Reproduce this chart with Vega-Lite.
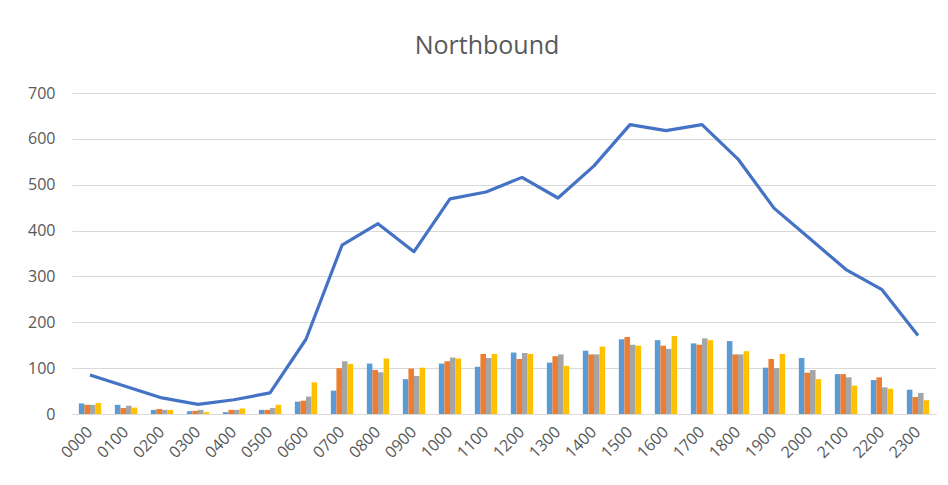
{
  "$schema": "https://vega.github.io/schema/vega-lite/v6.json",
  "width": 864,
  "height": 321,
  "autosize": {"type": "none"},
  "padding": {"left": 72, "top": 93, "right": 12, "bottom": 71},
  "background": "white",
  "title": {
    "text": "Northbound",
    "fontSize": 25,
    "font": "Open Sans",
    "fontWeight": "normal",
    "color": "#595959",
    "anchor": "middle",
    "dx": -17,
    "offset": 26
  },
  "datasets": {
    "counts": [
      {"hour": "0000", "s1": 23, "s2": 20, "s3": 20, "s4": 24, "total": 85},
      {"hour": "0100", "s1": 20, "s2": 13, "s3": 18, "s4": 14, "total": 60},
      {"hour": "0200", "s1": 9, "s2": 11, "s3": 9, "s4": 9, "total": 35},
      {"hour": "0300", "s1": 6, "s2": 7, "s3": 9, "s4": 4, "total": 21},
      {"hour": "0400", "s1": 4, "s2": 9, "s3": 9, "s4": 12, "total": 31},
      {"hour": "0500", "s1": 9, "s2": 9, "s3": 13, "s4": 20, "total": 46},
      {"hour": "0600", "s1": 27, "s2": 29, "s3": 38, "s4": 69, "total": 163},
      {"hour": "0700", "s1": 51, "s2": 100, "s3": 115, "s4": 109, "total": 368},
      {"hour": "0800", "s1": 110, "s2": 96, "s3": 91, "s4": 121, "total": 415},
      {"hour": "0900", "s1": 76, "s2": 99, "s3": 83, "s4": 101, "total": 354},
      {"hour": "1000", "s1": 110, "s2": 115, "s3": 123, "s4": 121, "total": 469},
      {"hour": "1100", "s1": 103, "s2": 131, "s3": 122, "s4": 131, "total": 484},
      {"hour": "1200", "s1": 134, "s2": 120, "s3": 133, "s4": 131, "total": 516},
      {"hour": "1300", "s1": 112, "s2": 126, "s3": 130, "s4": 105, "total": 471},
      {"hour": "1400", "s1": 138, "s2": 130, "s3": 130, "s4": 147, "total": 541},
      {"hour": "1500", "s1": 163, "s2": 168, "s3": 151, "s4": 149, "total": 631},
      {"hour": "1600", "s1": 161, "s2": 149, "s3": 142, "s4": 170, "total": 618},
      {"hour": "1700", "s1": 154, "s2": 151, "s3": 165, "s4": 161, "total": 631},
      {"hour": "1800", "s1": 159, "s2": 130, "s3": 130, "s4": 137, "total": 556},
      {"hour": "1900", "s1": 101, "s2": 120, "s3": 100, "s4": 131, "total": 449},
      {"hour": "2000", "s1": 122, "s2": 90, "s3": 96, "s4": 76, "total": 382},
      {"hour": "2100", "s1": 87, "s2": 87, "s3": 80, "s4": 62, "total": 315},
      {"hour": "2200", "s1": 74, "s2": 80, "s3": 58, "s4": 55, "total": 271},
      {"hour": "2300", "s1": 53, "s2": 37, "s3": 46, "s4": 30, "total": 171}
    ]
  },
  "data": {"name": "counts"},
  "config": {
    "view": {"stroke": null},
    "axis": {
      "labelFont": "Open Sans",
      "labelFontSize": 16,
      "labelColor": "#595959",
      "ticks": false,
      "title": null,
      "gridColor": "#d9d9d9",
      "domainColor": "#d9d9d9"
    }
  },
  "encoding": {
    "x": {
      "field": "hour",
      "type": "ordinal",
      "scale": {"paddingInner": 0.38, "paddingOuter": 0.19},
      "axis": {
        "labelAngle": -45,
        "labelAlign": "right",
        "labelBaseline": "middle",
        "labelPadding": 15,
        "grid": false
      }
    }
  },
  "layer": [
    {
      "transform": [{"fold": ["s1", "s2", "s3", "s4"], "as": ["series", "count"]}],
      "mark": {"type": "bar"},
      "encoding": {
        "xOffset": {"field": "series", "type": "nominal", "scale": {"paddingInner": 0}},
        "y": {
          "field": "count",
          "type": "quantitative",
          "scale": {"domain": [0, 700]},
          "axis": {"values": [0, 100, 200, 300, 400, 500, 600, 700], "domain": false, "labelPadding": 17}
        },
        "color": {
          "field": "series",
          "type": "nominal",
          "scale": {"domain": ["s1", "s2", "s3", "s4"], "range": ["#5B9BD5", "#ED7D31", "#A5A5A5", "#FFC000"]},
          "legend": null
        }
      }
    },
    {
      "mark": {"type": "line", "color": "#4472C4", "strokeWidth": 3.2, "strokeJoin": "round"},
      "encoding": {
        "y": {"field": "total", "type": "quantitative"}
      }
    }
  ]
}
